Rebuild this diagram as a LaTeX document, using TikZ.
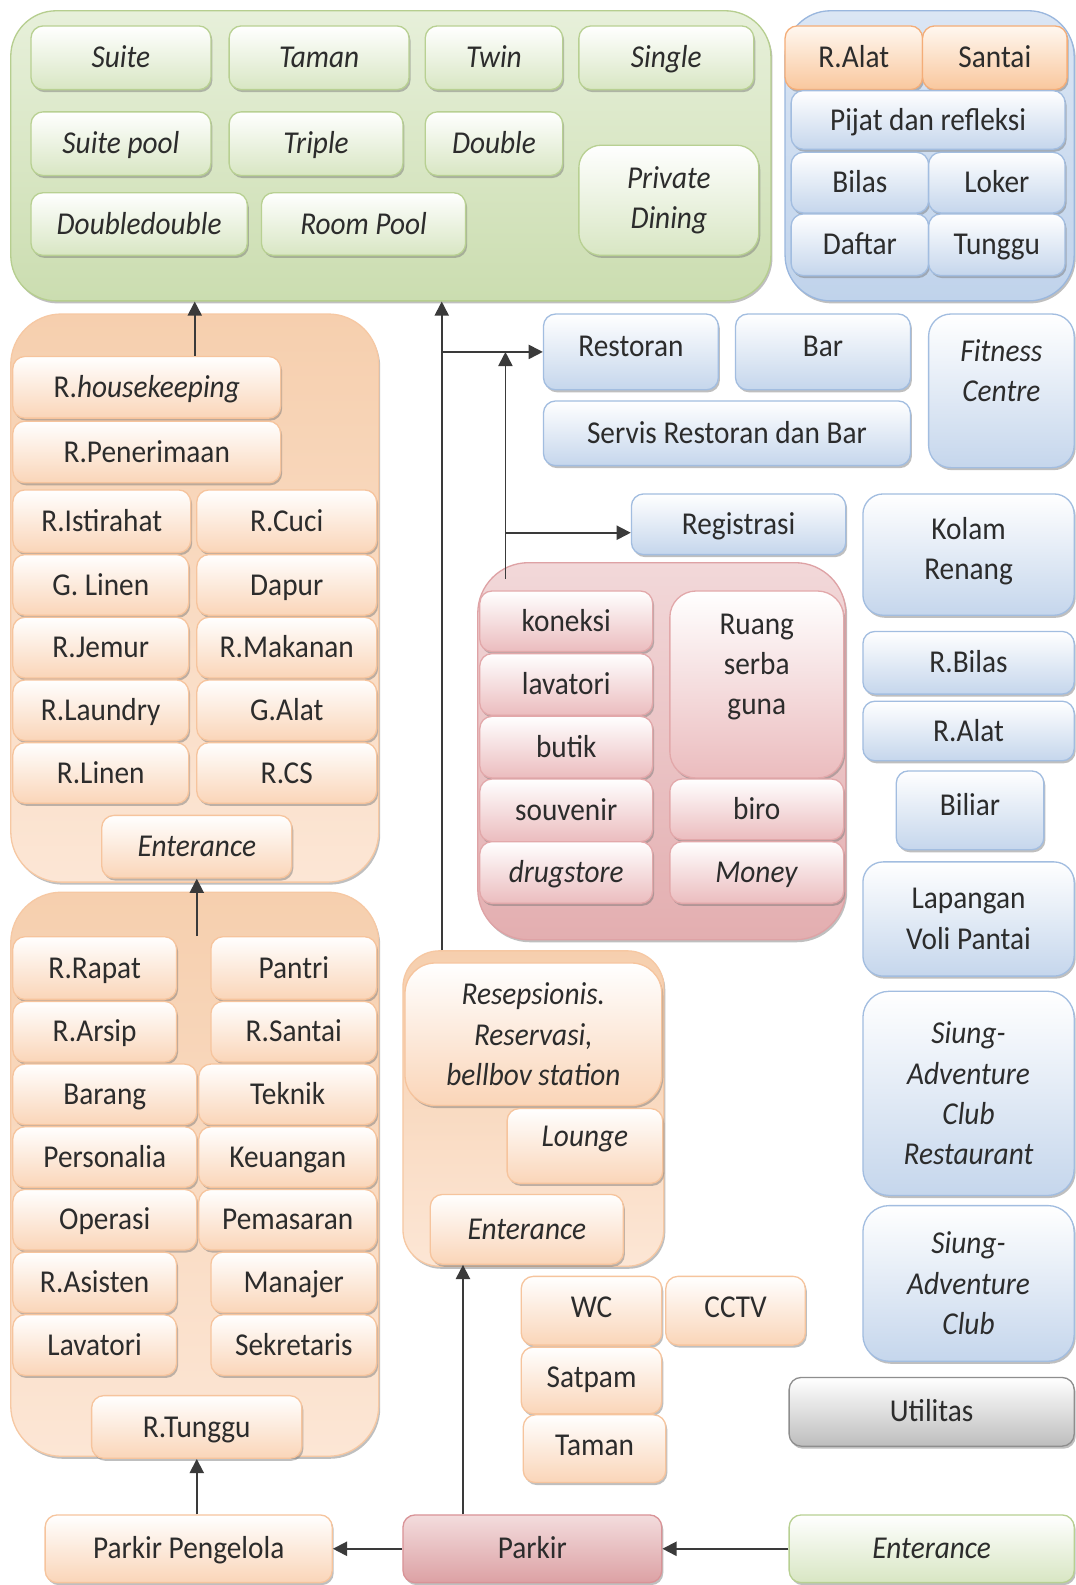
\documentclass[tikz,border=0pt]{standalone}
\usepackage{fontspec}
\setmainfont{Carlito}[FakeStretch=0.92]
\usetikzlibrary{arrows.meta,shadows,calc}

\definecolor{txt}{HTML}{2C2C2C}
\definecolor{arrowc}{HTML}{3A3A3A}
% zone colours
\definecolor{grzt}{HTML}{E7F0DA}\definecolor{grzb}{HTML}{CBDDB0}\definecolor{grzl}{HTML}{B6CE8F}
\definecolor{orzt}{HTML}{F6CFAE}\definecolor{orzb}{HTML}{FCE6D5}\definecolor{orzl}{HTML}{F6C8A3}
\definecolor{blzt}{HTML}{DBE6F4}\definecolor{blzb}{HTML}{C0D3EB}\definecolor{blzl}{HTML}{9AB7DE}
\definecolor{rdzt}{HTML}{F2D8D9}\definecolor{rdzb}{HTML}{E3AEB0}\definecolor{rdzl}{HTML}{DEA2A5}
% box colours
\definecolor{grfill}{HTML}{D8E6C3}\definecolor{grline}{HTML}{B8D092}
\definecolor{orfill}{HTML}{FAD5B8}\definecolor{orline}{HTML}{F6C49D}
\definecolor{orstrong}{HTML}{F9C79D}\definecolor{orstrongl}{HTML}{F4AD78}
\definecolor{blfill}{HTML}{C5D6EC}\definecolor{blline}{HTML}{A2BDE0}
\definecolor{rdfill}{HTML}{EBBCBE}\definecolor{rdline}{HTML}{E2A8AA}
\definecolor{gyfill}{HTML}{BDBDBD}\definecolor{gyline}{HTML}{8E8E8E}
\definecolor{pktop}{HTML}{F3DCDD}\definecolor{pkbot}{HTML}{DCA1A4}\definecolor{pkline}{HTML}{D99397}

\tikzset{
  sz/.style 2 args={minimum width=#1pt, minimum height=#2pt},
  shade box/.style={drop shadow={shadow xshift=1.5pt, shadow yshift=-2.5pt, opacity=.45, fill=black!55}},
  zone/.style={draw, line width=1.3pt, rounded corners=45pt, anchor=north west, inner sep=0pt, shade box},
  room/.style={draw, line width=1.3pt, rounded corners=12pt, anchor=north west, align=center,
    inner sep=2pt, text=txt, font=\fontsize{31.5}{40}\selectfont, text height=20pt, text depth=0pt, shade box},
  multi/.style={text height={}, text depth={}},
  gbox/.style={room, draw=grline, top color=white, bottom color=grfill},
  obox/.style={room, draw=orline, top color=white, bottom color=orfill},
  oboxs/.style={room, draw=orstrongl, top color=orange!6, bottom color=orstrong},
  bbox/.style={room, draw=blline, top color=white, bottom color=blfill},
  rbox/.style={room, draw=rdline, top color=white, bottom color=rdfill},
  flow/.style={-{Triangle[length=14pt,width=14pt]}, line width=1.8pt, draw=arrowc},
}

\begin{document}
\begin{tikzpicture}[x=1pt,y=-1pt]
    \path[use as bounding box, fill=white] (0,0) rectangle (1064,1568);

    % Zones
    \node[zone, top color=grzt, bottom color=grzb, draw=grzl, sz={752}{287}] (roomzone) at (10,10) {};
    \node[zone, top color=blzt, bottom color=blzb, draw=blzl, sz={286}{287}] (spazone) at (776,10) {};
    \node[zone, top color=orzt, bottom color=orzb, draw=orzl, sz={364}{562}, rounded corners=50pt] (hkzone) at (10,310) {};
    \node[zone, top color=orzt, bottom color=orzb, draw=orzl, sz={364}{558}, rounded corners=50pt] (admzone) at (10,882) {};
    \node[zone, top color=rdzt, bottom color=rdzb, draw=rdzl, sz={364}{373}, rounded corners=50pt] (shopzone) at (472,556) {};
    \node[zone, top color=orzt, bottom color=orzb, draw=orzl, sz={258}{312}, rounded corners=36pt] (lobzone) at (398,940) {};

    % Rooms
    \node[gbox, sz={178}{63}] (suite) at (30,25) {\textit{Suite}};
    \node[gbox, sz={178}{63}] (taman) at (226,25) {\textit{Taman}};
    \node[gbox, sz={136}{63}] (twin) at (420,25) {\textit{Twin}};
    \node[gbox, sz={173}{63}] (single) at (572,25) {\textit{Single}};
    \node[gbox, sz={178}{63}] (suitepool) at (30,110) {\textit{Suite pool}};
    \node[gbox, sz={172}{63}] (triple) at (226,110) {\textit{Triple}};
    \node[gbox, sz={136}{63}] (double) at (420,110) {\textit{Double}};
    \node[gbox, sz={214}{62}] (ddouble) at (30,190) {\textit{Doubledouble}};
    \node[gbox, sz={202}{62}] (roompool) at (258,190) {\textit{Room Pool}};
    \node[gbox, multi, sz={178}{109}, rounded corners=22pt] (privdin) at (572,143) {\textit{Private}\\\textit{Dining}};

    % Spa
    \node[oboxs, sz={136}{63}] (salat) at (776,25) {R.Alat};
    \node[oboxs, sz={143}{63}] (santai) at (912,25) {Santai};
    \node[bbox, sz={271}{58}] (pijat) at (782,89) {Pijat dan refleksi};
    \node[bbox, sz={136}{60}] (bilas) at (782,150) {Bilas};
    \node[bbox, sz={135}{60}] (loker) at (918,150) {Loker};
    \node[bbox, sz={136}{61}] (daftar) at (782,211) {Daftar};
    \node[bbox, sz={135}{61}] (stunggu) at (918,211) {Tunggu};

    % Housekeeping
    \node[obox, sz={265}{61}] (hk) at (12,352) {R.\textit{housekeeping}};
    \node[obox, sz={265}{61}] (penerimaan) at (12,416) {R.Penerimaan};
    \node[obox, sz={176}{62}] (istirahat) at (12,484) {R.Istirahat};
    \node[obox, sz={178}{62}] (cuci) at (194,484) {R.Cuci};
    \node[obox, sz={174}{60}] (glinen) at (12,548) {G. Linen};
    \node[obox, sz={178}{60}] (dapur) at (194,548) {Dapur};
    \node[obox, sz={174}{60}] (jemur) at (12,610) {R.Jemur};
    \node[obox, sz={178}{60}] (makanan) at (194,610) {R.Makanan};
    \node[obox, sz={174}{60}] (laundry) at (12,672) {R.Laundry};
    \node[obox, sz={178}{60}] (galat) at (194,672) {G.Alat};
    \node[obox, sz={174}{60}] (linen) at (12,734) {R.Linen};
    \node[obox, sz={178}{60}] (rcs) at (194,734) {R.CS};
    \node[obox, sz={188}{62}] (hkent) at (100,806) {\textit{Enterance}};

    % Administration
    \node[obox, sz={162}{62}] (rapat) at (12,926) {R.Rapat};
    \node[obox, sz={164}{62}] (pantri) at (208,926) {Pantri};
    \node[obox, sz={162}{60}] (arsip) at (12,990) {R.Arsip};
    \node[obox, sz={164}{60}] (rsantai) at (208,990) {R.Santai};
    \node[obox, sz={182}{60}] (barang) at (12,1052) {Barang};
    \node[obox, sz={176}{60}] (teknik) at (196,1052) {Teknik};
    \node[obox, sz={182}{60}] (personalia) at (12,1114) {Personalia};
    \node[obox, sz={176}{60}] (keuangan) at (196,1114) {Keuangan};
    \node[obox, sz={182}{60}] (operasi) at (12,1176) {Operasi};
    \node[obox, sz={176}{60}] (pemasaran) at (196,1176) {Pemasaran};
    \node[obox, sz={162}{60}] (asisten) at (12,1238) {R.Asisten};
    \node[obox, sz={164}{60}] (manajer) at (208,1238) {Manajer};
    \node[obox, sz={162}{60}] (lavatori) at (12,1300) {Lavatori};
    \node[obox, sz={164}{60}] (sekretaris) at (208,1300) {Sekretaris};
    \node[obox, sz={208}{62}] (tunggu) at (90,1380) {R.Tunggu};

    % Restaurant and sport
    \node[bbox, sz={173}{75}, text depth=10pt] (restoran) at (537,310) {Restoran};
    \node[bbox, sz={173}{75}, text depth=10pt] (bar) at (727,310) {Bar};
    \node[bbox, sz={363}{64}] (servis) at (537,396) {Servis Restoran dan Bar};
    \node[bbox, multi, sz={144}{152}, rounded corners=22pt] (fitness) at (918,310) {\textit{Fitness}\\\textit{Centre}\\\mbox{}};
    \node[bbox, multi, sz={209}{120}, rounded corners=20pt] (kolam) at (853,488) {Kolam\\Renang\\[-28pt]\mbox{}};
    \node[bbox, sz={212}{60}] (registrasi) at (624,488) {Registrasi};
    \node[bbox, sz={209}{62}] (rbilas) at (853,624) {R.Bilas};
    \node[bbox, sz={209}{59}] (ralat) at (853,693) {R.Alat};
    \node[bbox, sz={146}{78}, text depth=10pt] (biliar) at (886,762) {Biliar};
    \node[bbox, multi, sz={209}{113}, rounded corners=20pt] (lapangan) at (853,852) {Lapangan\\Voli Pantai};
    \node[bbox, multi, sz={209}{202}, rounded corners=26pt] (siungresto) at (853,980) {\textit{Siung-}\\\textit{Adventure}\\\textit{Club}\\\textit{Restaurant}};
    \node[bbox, multi, sz={209}{154}, rounded corners=26pt] (siungclub) at (853,1192) {\textit{Siung-}\\\textit{Adventure}\\\textit{Club}};

    % Shops
    \node[rbox, sz={171}{60}] (koneksi) at (474,584) {koneksi};
    \node[rbox, sz={171}{61}] (lavshop) at (474,646) {lavatori};
    \node[rbox, sz={171}{61}] (butik) at (474,708) {butik};
    \node[rbox, sz={171}{62}] (souvenir) at (474,770) {souvenir};
    \node[rbox, sz={171}{61}] (drugstore) at (474,832) {\textit{drugstore}};
    \node[rbox, multi, sz={172}{185}, rounded corners=26pt] (ruang) at (662,584) {Ruang\\serba\\guna\\\mbox{}};
    \node[rbox, sz={172}{60}] (biro) at (662,770) {biro};
    \node[rbox, sz={172}{61}] (money) at (662,832) {\textit{Money}};

    % Lobby
    \node[obox, multi, sz={254}{141}, rounded corners=30pt] (resep) at (400,952) {\textit{Resepsionis.}\\\textit{Reservasi,}\\\textit{bellbov station}};
    \node[obox, sz={154}{74}, text depth=18pt] (lounge) at (501,1096) {\textit{Lounge}};
    \node[obox, sz={191}{69}] (lobent) at (425,1181) {\textit{Enterance}};

    % Services and utility
    \node[obox, sz={139}{68}, text depth=6pt] (wc) at (515,1262) {WC};
    \node[obox, sz={138}{68}, text depth=6pt] (cctv) at (658,1262) {CCTV};
    \node[obox, sz={139}{66}, text depth=6pt] (satpam) at (515,1332) {Satpam};
    \node[obox, sz={141}{67}, text depth=6pt] (taman2) at (517,1399) {Taman};
    \node[room, draw=gyline, top color=white, bottom color=gyfill, sz={282}{68}] (utilitas) at (780,1362) {Utilitas};

    % Parking
    \node[obox, sz={284}{67}] (pp) at (44,1498) {Parkir Pengelola};
    \node[room, draw=pkline, top color=pktop, bottom color=pkbot, sz={256}{67}] (parkir) at (398,1498) {Parkir};
    \node[gbox, sz={282}{67}] (entr) at (780,1498) {\textit{Enterance}};

    % Connections
    \coordinate (spine) at (437,349);
    \coordinate (riser) at (500,527);
    \draw[flow] (entr.west) -- (parkir.east);
    \draw[flow] (parkir.west) -- (pp.east);
    \draw[flow] (pp.north -| tunggu.south) -- (tunggu.south);
    \draw[flow] (hkent.south |- rapat.north) -- (hkent.south);
    \draw[flow] (hk.north -| hkzone.north) -- (roomzone.south -| hkzone.north);
    \draw[flow] ($(parkir.north west)+(60,0)$) -- ($(lobent.south west)+(33,0)$);
    \draw[flow] (lobzone.north -| spine) -- (roomzone.south -| spine);
    \draw[flow] (spine |- restoran.west) -- (restoran.west);
    \draw[flow] ($(riser |- shopzone.north)+(0,17)$) -- (riser |- restoran.west);
    \draw[flow] (riser) -- (riser -| registrasi.west);
\end{tikzpicture}
\end{document}
